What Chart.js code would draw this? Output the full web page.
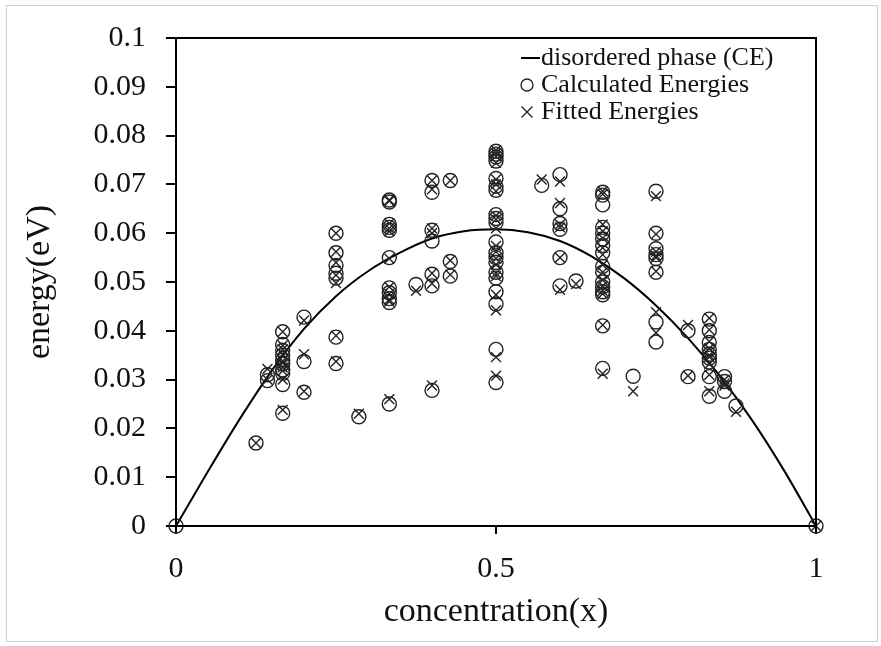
<!DOCTYPE html>
<html>
<head>
<meta charset="utf-8">
<script src="https://cdn.jsdelivr.net/npm/chart.js@4.4.1/dist/chart.umd.min.js"></script>
<style>
    html, body { margin: 0; padding: 0; background: #fff; }
    #frame {
        position: absolute; left: 6px; top: 5px;
        width: 870px; height: 635px;
        border: 1px solid #d0d0d0;
    }
    #wrap { position: absolute; left: 0; top: 0; width: 881px; height: 646px; }
</style>
</head>
<body>
<div id="frame"></div>
<div id="wrap"><canvas id="chart" width="881" height="646"></canvas></div>
<script>
// concentrations of the calculated structures
const concentrations = [0, 0.125, 0.1429, 0.1667, 0.2, 0.25, 0.2857, 0.3333, 0.375, 0.4, 0.4286,
    0.5, 0.5714, 0.6, 0.625, 0.6667, 0.7143, 0.75, 0.8, 0.8333, 0.8571, 0.875, 1];

// calculated energies (eV), one list per concentration
const calculatedEnergies = [
    [0],
    [0.0170],
    [0.0310, 0.0298],
    [0.0398, 0.0372, 0.0360, 0.0350, 0.0340, 0.0332, 0.0320, 0.0313, 0.0290, 0.0231],
    [0.0428, 0.0337, 0.0274],
    [0.0600, 0.0560, 0.0534, 0.0518, 0.0508, 0.0387, 0.0333],
    [0.0224],
    [0.0668, 0.0664, 0.0618, 0.0612, 0.0606, 0.0550, 0.0488, 0.0478, 0.0466, 0.0458, 0.0250],
    [0.0495],
    [0.0708, 0.0684, 0.0606, 0.0584, 0.0516, 0.0492, 0.0278],
    [0.0708, 0.0542, 0.0512],
    [0.0768, 0.0762, 0.0756, 0.0748, 0.0712, 0.0696, 0.0688, 0.0638, 0.0630, 0.0622, 0.0582,
     0.0560, 0.0550, 0.0540, 0.0520, 0.0508, 0.0480, 0.0455, 0.0362, 0.0294],
    [0.0698],
    [0.0720, 0.0650, 0.0620, 0.0608, 0.0550, 0.0492],
    [0.0502],
    [0.0684, 0.0678, 0.0658, 0.0612, 0.0600, 0.0588, 0.0575, 0.0560, 0.0532, 0.0520, 0.0500,
     0.0490, 0.0480, 0.0474, 0.0410, 0.0323],
    [0.0307],
    [0.0686, 0.0600, 0.0568, 0.0556, 0.0548, 0.0520, 0.0418, 0.0377],
    [0.0400, 0.0306],
    [0.0424, 0.0400, 0.0376, 0.0362, 0.0352, 0.0344, 0.0336, 0.0306, 0.0266],
    [0.0306, 0.0296, 0.0276],
    [0.0246],
    [0]
];

// fitted (CE) energies (eV), one list per concentration
const fittedEnergies = [
    [],
    [0.0170],
    [0.0322, 0.0300],
    [0.0398, 0.0370, 0.0362, 0.0352, 0.0338, 0.0334, 0.0325, 0.0318, 0.0300, 0.0238],
    [0.0421, 0.0352, 0.0276],
    [0.0600, 0.0562, 0.0540, 0.0514, 0.0498, 0.0390, 0.0337],
    [0.0230],
    [0.0668, 0.0666, 0.0620, 0.0610, 0.0604, 0.0548, 0.0490, 0.0476, 0.0464, 0.0460, 0.0260],
    [0.0482],
    [0.0708, 0.0690, 0.0610, 0.0600, 0.0518, 0.0497, 0.0288],
    [0.0708, 0.0544, 0.0515],
    [0.0770, 0.0764, 0.0758, 0.0744, 0.0710, 0.0700, 0.0686, 0.0636, 0.0628, 0.0610, 0.0574,
     0.0562, 0.0548, 0.0536, 0.0518, 0.0512, 0.0474, 0.0442, 0.0346, 0.0308],
    [0.0710],
    [0.0706, 0.0662, 0.0618, 0.0612, 0.0550, 0.0484],
    [0.0496],
    [0.0686, 0.0680, 0.0618, 0.0604, 0.0590, 0.0570, 0.0556, 0.0535, 0.0520, 0.0504, 0.0492,
     0.0482, 0.0476, 0.0412, 0.0312],
    [0.0276],
    [0.0676, 0.0598, 0.0562, 0.0554, 0.0550, 0.0522, 0.0438, 0.0396],
    [0.0412, 0.0308],
    [0.0426, 0.0402, 0.0378, 0.0364, 0.0350, 0.0346, 0.0332, 0.0310, 0.0276],
    [0.0300, 0.0292, 0.0288],
    [0.0234],
    [0]
];

// disordered phase (CE) curve
const curveConc = [0, 0.05, 0.1, 0.15, 0.2, 0.25, 0.3, 0.35, 0.4, 0.45, 0.5,
    0.55, 0.6, 0.65, 0.7, 0.75, 0.8, 0.85, 0.9, 0.95, 1];
const curveEnergy = [0, 0.0112, 0.0220, 0.0319, 0.0404, 0.0471, 0.0522, 0.0560, 0.0589, 0.0604, 0.0608,
    0.0602, 0.0584, 0.0552, 0.0508, 0.0452, 0.0385, 0.0307, 0.0217, 0.0114, 0];

const xTicks = [0, 0.5, 1];
const yTickStep = 0.01;

const SERIF = "'Liberation Serif', 'DejaVu Serif', serif";
const INK = "#222";

function toPoints(list) {
    const pts = [];
    list.forEach((energies, i) => {
        energies.forEach((e) => pts.push({ x: concentrations[i], y: e }));
    });
    return pts;
}

const framePlugin = {
    id: "frameAndLegend",
    afterDraw(chart) {
        const { ctx, chartArea: a } = chart;
        ctx.save();
        ctx.strokeStyle = "#000";
        ctx.lineWidth = 2;
        ctx.strokeRect(a.left, a.top, a.right - a.left, a.bottom - a.top);

        // legend inside the plot, top right
        const lx = 527;
        const tx = 541;
        const rows = [58, 85, 112];
        ctx.fillStyle = "#111";
        ctx.font = "26px " + SERIF;
        ctx.textBaseline = "middle";
        ctx.strokeStyle = "#000";
        ctx.lineWidth = 2;
        ctx.beginPath();
        ctx.moveTo(521, rows[0]);
        ctx.lineTo(540, rows[0]);
        ctx.stroke();
        ctx.fillText("disordered phase (CE)", tx, rows[0]);

        ctx.lineWidth = 1.3;
        ctx.strokeStyle = INK;
        ctx.beginPath();
        ctx.arc(lx, rows[1], 6, 0, Math.PI * 2);
        ctx.stroke();
        ctx.fillText("Calculated Energies", tx, rows[1]);

        const r = 5.5;
        ctx.beginPath();
        ctx.moveTo(lx - r, rows[2] - r);
        ctx.lineTo(lx + r, rows[2] + r);
        ctx.moveTo(lx + r, rows[2] - r);
        ctx.lineTo(lx - r, rows[2] + r);
        ctx.stroke();
        ctx.fillText("Fitted Energies", tx, rows[2]);
        ctx.restore();
    }
};

new Chart(document.getElementById("chart").getContext("2d"), {
    type: "scatter",
    data: {
        datasets: [
            {
                label: "disordered phase (CE)",
                data: curveConc.map((c, i) => ({ x: c, y: curveEnergy[i] })),
                showLine: true,
                borderColor: "#000",
                borderWidth: 2,
                pointRadius: 0,
                cubicInterpolationMode: "monotone",
                fill: false,
                order: 3,
            },
            {
                label: "Calculated Energies",
                data: toPoints(calculatedEnergies),
                pointStyle: "circle",
                pointRadius: 7,
                borderWidth: 1.4,
                borderColor: INK,
                backgroundColor: "rgba(0,0,0,0)",
                clip: false,
                order: 2,
            },
            {
                label: "Fitted Energies",
                data: toPoints(fittedEnergies),
                pointStyle: "crossRot",
                pointRadius: 7,
                borderWidth: 1.4,
                borderColor: INK,
                clip: false,
                order: 1,
            },
        ],
    },
    options: {
        responsive: false,
        animation: false,
        events: [],
        layout: { padding: { top: 33, right: 65, left: 0, bottom: 0 } },
        plugins: {
            legend: { display: false },
            tooltip: { enabled: false },
        },
        scales: {
            x: {
                type: "linear",
                min: 0,
                max: 1,
                afterBuildTicks: (scale) => {
                    scale.ticks = xTicks.map((v) => ({ value: v }));
                },
                afterFit: (scale) => { scale.height = 120; },
                border: { color: "#000", width: 2 },
                grid: { drawOnChartArea: false, tickLength: 8, color: "#000", lineWidth: 2 },
                ticks: {
                    color: "#111",
                    padding: 17,
                    font: { family: SERIF, size: 30 },
                    callback: (v) => String(v),
                },
                title: {
                    display: true,
                    text: "concentration(x)",
                    color: "#111",
                    font: { family: SERIF, size: 34 },
                    padding: { top: 4, bottom: 14 },
                },
            },
            y: {
                min: 0,
                max: 0.1,
                afterFit: (scale) => { scale.width = 176; },
                border: { color: "#000", width: 2 },
                grid: { drawOnChartArea: false, tickLength: 10, color: "#000", lineWidth: 2 },
                ticks: {
                    stepSize: yTickStep,
                    color: "#111",
                    padding: 20,
                    font: { family: SERIF, size: 30 },
                    callback: (v) => String(Number(v.toFixed(2))),
                },
                title: {
                    display: true,
                    text: "energy(eV)",
                    color: "#111",
                    font: { family: SERIF, size: 34 },
                    padding: { top: 20, bottom: 0 },
                },
            },
        },
    },
    plugins: [framePlugin],
});
</script>
</body>
</html>
